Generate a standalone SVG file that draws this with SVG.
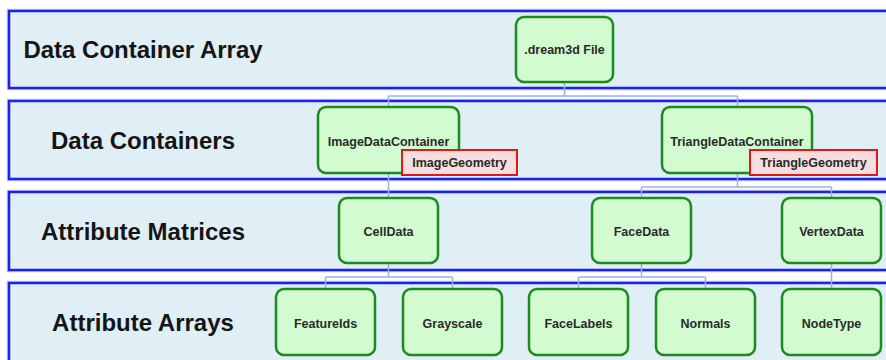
<svg xmlns="http://www.w3.org/2000/svg" width="886" height="360" viewBox="0 0 886 360">
  <style>
    .band-glow { fill: none; stroke: #c4cbf4; stroke-width: 4.5; }
    .band { fill: #e0eef5; stroke: #1c22ee; stroke-width: 2.5; }
    .band-label { font-family: "Liberation Sans", Arial, sans-serif; font-weight: bold; font-size: 24px; fill: #151515; text-anchor: middle; }
    .node rect.box { fill: #d3fbd0; stroke: #1b8a1f; stroke-width: 2.5; }
    .geom rect { fill: #f6dede; stroke: #e01818; stroke-width: 2; }
    .node text, .geom text { font-family: "Liberation Sans", Arial, sans-serif; font-weight: bold; font-size: 12.5px; fill: #2a2a2a; text-anchor: middle; }
    .links path { fill: none; stroke: #9db3d4; stroke-width: 1.5; }
  </style>

  <!-- hierarchy level bands -->
  <g id="bands">
    <rect class="band-glow" x="9" y="11" width="890" height="77"/>
    <rect class="band" x="9" y="11" width="890" height="77"/>
    <rect class="band-glow" x="9" y="101" width="890" height="78"/>
    <rect class="band" x="9" y="101" width="890" height="78"/>
    <rect class="band-glow" x="9" y="192" width="890" height="78"/>
    <rect class="band" x="9" y="192" width="890" height="78"/>
    <rect class="band-glow" x="9" y="283" width="890" height="90"/>
    <rect class="band" x="9" y="283" width="890" height="90"/>
    <text class="band-label" x="143" y="58">Data Container Array</text>
    <text class="band-label" x="143" y="149">Data Containers</text>
    <text class="band-label" x="143" y="240">Attribute Matrices</text>
    <text class="band-label" x="143" y="331">Attribute Arrays</text>
  </g>

  <!-- tree connectors -->
  <g class="links" id="connectors">
    <path d="M564.5 82 V96 M388.5 96 H737.5 M388.5 96 V107 M737.5 96 V107"/>
    <path d="M388.5 173 V198"/>
    <path d="M737.5 173 V187 M641.5 187 H831.5 M641.5 187 V198 M831.5 187 V198"/>
    <path d="M388.5 263 V277 M325.5 277 H452.5 M325.5 277 V289 M452.5 277 V289"/>
    <path d="M641.5 263 V277 M578.5 277 H705.5 M578.5 277 V289 M705.5 277 V289"/>
    <path d="M831.5 263 V289"/>
  </g>

  <g class="node" id="dream3d-file">
    <rect class="box" x="516" y="17" width="97" height="65" rx="8"/>
    <text x="564.5" y="54">.dream3d File</text>
  </g>

  <g class="node" id="image-data-container">
    <rect class="box" x="318" y="107" width="141" height="66" rx="8"/>
    <text x="388.5" y="146">ImageDataContainer</text>
  </g>
  <g class="geom" id="image-geometry">
    <rect x="402" y="150" width="115" height="25"/>
    <text x="459.5" y="167">ImageGeometry</text>
  </g>

  <g class="node" id="triangle-data-container">
    <rect class="box" x="662" y="107" width="150" height="66" rx="8"/>
    <text x="737" y="146">TriangleDataContainer</text>
  </g>
  <g class="geom" id="triangle-geometry">
    <rect x="750" y="150" width="127" height="25"/>
    <text x="813.5" y="167">TriangleGeometry</text>
  </g>

  <g class="node" id="cell-data">
    <rect class="box" x="339" y="198" width="99" height="65" rx="8"/>
    <text x="388.5" y="236">CellData</text>
  </g>
  <g class="node" id="face-data">
    <rect class="box" x="592" y="198" width="99" height="65" rx="8"/>
    <text x="641.5" y="236">FaceData</text>
  </g>
  <g class="node" id="vertex-data">
    <rect class="box" x="782" y="198" width="99" height="65" rx="8"/>
    <text x="831.5" y="236">VertexData</text>
  </g>

  <g class="node" id="feature-ids">
    <rect class="box" x="276" y="289" width="99" height="66" rx="8"/>
    <text x="325.5" y="328">FeatureIds</text>
  </g>
  <g class="node" id="grayscale">
    <rect class="box" x="403" y="289" width="99" height="66" rx="8"/>
    <text x="452.5" y="328">Grayscale</text>
  </g>
  <g class="node" id="face-labels">
    <rect class="box" x="529" y="289" width="99" height="66" rx="8"/>
    <text x="578.5" y="328">FaceLabels</text>
  </g>
  <g class="node" id="normals">
    <rect class="box" x="656" y="289" width="99" height="66" rx="8"/>
    <text x="705.5" y="328">Normals</text>
  </g>
  <g class="node" id="node-type">
    <rect class="box" x="782" y="289" width="99" height="66" rx="8"/>
    <text x="831.5" y="328">NodeType</text>
  </g>
</svg>
